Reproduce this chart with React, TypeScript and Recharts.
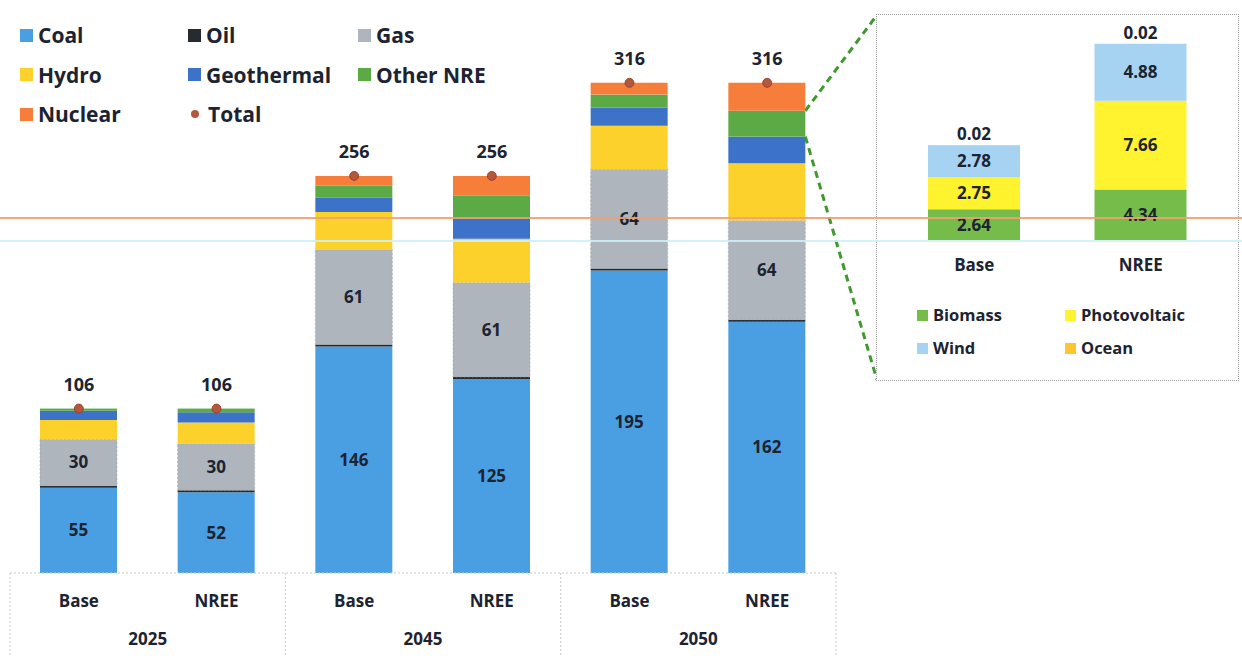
import React from 'react';
import { ComposedChart, BarChart, Bar, Line, XAxis, YAxis, LabelList } from 'recharts';

// ---------- Main chart data ----------
const scenarios = ['Base', 'NREE', 'Base', 'NREE', 'Base', 'NREE'];
const years = ['2025', '2025', '2045', '2045', '2050', '2050'];
const coal = [55, 52, 146, 125, 195, 162];
const oil = [1.3, 1.3, 1.3, 1.3, 1.3, 1.3];
const gas = [30, 30, 61, 61, 64, 64];
const hydro = [12.3, 13.8, 24.4, 28.2, 28, 36.8];
const geothermal = [6, 6.5, 9.2, 14, 11.8, 17.2];
const otherNRE = [1.4, 2.4, 7.8, 13.9, 8.3, 16.7];
const nuclear = [0, 0, 6.3, 12.6, 7.6, 18];
const totals = [106, 106, 256, 256, 316, 316];

// ---------- Inset data ----------
const insetScenarios = ['Base', 'NREE'];
const biomass = [2.64, 4.34];
const photovoltaic = [2.75, 7.66];
const wind = [2.78, 4.88];
const ocean = [0.02, 0.02];

const FONT = "'Open Sans', sans-serif";
const TEXT = '#1d2330';

const C = {
  coal: '#4A9FE3',
  oil: '#262B30',
  gas: '#AEB5BC',
  hydro: '#FDD12B',
  geo: '#3D72C9',
  other: '#5BAA45',
  nuclear: '#F67E3A',
  total: '#B4573C',
  biomass: '#76BC4B',
  pv: '#FFF22E',
  wind: '#A7D3F3',
  ocean: '#FFC52E',
};

const mainData = scenarios.map((s, i) => ({
  scenario: s,
  year: years[i],
  coal: coal[i],
  oil: oil[i],
  gas: gas[i],
  hydro: hydro[i],
  geothermal: geothermal[i],
  otherNRE: otherNRE[i],
  nuclear: nuclear[i],
  total: totals[i],
}));

const insetData = insetScenarios.map((s, i) => ({
  scenario: s,
  biomass: biomass[i],
  photovoltaic: photovoltaic[i],
  wind: wind[i],
  ocean: ocean[i],
}));

const mainLegend = [
  { name: 'Coal', color: C.coal },
  { name: 'Oil', color: C.oil },
  { name: 'Gas', color: C.gas },
  { name: 'Hydro', color: C.hydro },
  { name: 'Geothermal', color: C.geo },
  { name: 'Other NRE', color: C.other },
  { name: 'Nuclear', color: C.nuclear },
  { name: 'Total', color: C.total, dot: true },
];

const insetLegend = [
  { name: 'Biomass', color: C.biomass },
  { name: 'Photovoltaic', color: C.pv },
  { name: 'Wind', color: C.wind },
  { name: 'Ocean', color: C.ocean },
];

// Inset box layout
const INSET_LEFT = 876;
const INSET_TOP = 14;
const INSET_W = 363;
const INSET_H = 367;

const ScenarioTick = (props: any) => {
  const { x, y, payload, index, width, visibleTicksCount } = props;
  const count = visibleTicksCount || 6;
  const band = (width || 827) / count;
  const lineStyle = { stroke: '#c9c9c9', strokeWidth: 1, strokeDasharray: '2 2' };
  return (
    <g>
      {index % 2 === 0 && (
        <line x1={x - band / 2} x2={x - band / 2} y1={y} y2={y + 82} {...lineStyle} />
      )}
      {index === count - 1 && (
        <line x1={x + band / 2} x2={x + band / 2} y1={y} y2={y + 82} {...lineStyle} />
      )}
      <text
        x={x}
        y={y + 27}
        textAnchor="middle"
        dominantBaseline="central"
        fontFamily={FONT}
        fontSize={17}
        fontWeight={700}
        fill={TEXT}
      >
        {payload.value}
      </text>
    </g>
  );
};

const YearTick = (props: any) => {
  const { x, y, payload } = props;
  return (
    <text
      x={x}
      y={y + 20}
      textAnchor="middle"
      dominantBaseline="central"
      fontFamily={FONT}
      fontSize={17}
      fontWeight={700}
      fill={TEXT}
    >
      {payload.value}
    </text>
  );
};

const InsetTick = (props: any) => {
  const { x, y, payload } = props;
  return (
    <text
      x={x}
      y={y + 24}
      textAnchor="middle"
      dominantBaseline="central"
      fontFamily={FONT}
      fontSize={17}
      fontWeight={700}
      fill={TEXT}
    >
      {payload.value}
    </text>
  );
};

// Other NRE bar shape; the last bar also draws the zoom connector to the inset box
const OtherShape = (props: any) => {
  const { x, y, width, height, fill, index } = props;
  const isLast = index === mainData.length - 1;
  const dash = { stroke: '#3E9A2C', strokeWidth: 3, strokeDasharray: '7 5', fill: 'none' };
  return (
    <g>
      <rect x={x} y={y} width={width} height={height} fill={fill} />
      {isLast && (
        <>
          <path d={`M${x + width},${y} L${INSET_LEFT + 1},${INSET_TOP + 1}`} {...dash} />
          <path d={`M${x + width},${y + height} L${INSET_LEFT + 1},${INSET_TOP + INSET_H - 1}`} {...dash} />
        </>
      )}
    </g>
  );
};

const labelStyle = { fill: TEXT, fontSize: 17, fontWeight: 700, fontFamily: FONT };

export default function App() {
  return (
    <div
      style={{
        position: 'absolute',
        left: 0,
        top: 0,
        width: 1242,
        height: 664,
        background: '#ffffff',
        fontFamily: FONT,
        overflow: 'hidden',
      }}
    >
      <ComposedChart
        width={1242}
        height={664}
        data={mainData}
        margin={{ top: 0, right: 406, left: 10, bottom: 6 }}
        style={{ overflow: 'visible' }}
      >
        <XAxis
          xAxisId="scen"
          dataKey="scenario"
          height={45}
          tickSize={0}
          tickMargin={0}
          tickLine={false}
          axisLine={{ stroke: '#c9c9c9', strokeDasharray: '2 2' }}
          tick={<ScenarioTick />}
          interval={0}
        />
        <XAxis
          xAxisId="year"
          dataKey="year"
          allowDuplicatedCategory={false}
          height={40}
          tickSize={0}
          tickMargin={0}
          tickLine={false}
          axisLine={false}
          tick={<YearTick />}
          interval={0}
        />
        <YAxis hide domain={[0, 369.4]} />
        <Bar xAxisId="scen" dataKey="coal" stackId="a" fill={C.coal} barSize={77} isAnimationActive={false}>
          <LabelList dataKey="coal" position="center" style={labelStyle} />
        </Bar>
        <Bar xAxisId="scen" dataKey="oil" stackId="a" fill={C.oil} barSize={77} isAnimationActive={false} />
        <Bar
          xAxisId="scen"
          dataKey="gas"
          stackId="a"
          fill={C.gas}
          stroke="#9aa1a7"
          strokeWidth={0.6}
          strokeDasharray="2 2"
          barSize={77}
          isAnimationActive={false}
        >
          <LabelList dataKey="gas" position="center" style={labelStyle} />
        </Bar>
        <Bar xAxisId="scen" dataKey="hydro" stackId="a" fill={C.hydro} barSize={77} isAnimationActive={false} />
        <Bar xAxisId="scen" dataKey="geothermal" stackId="a" fill={C.geo} barSize={77} isAnimationActive={false} />
        <Bar
          xAxisId="scen"
          dataKey="otherNRE"
          stackId="a"
          fill={C.other}
          barSize={77}
          shape={<OtherShape />}
          isAnimationActive={false}
        />
        <Bar xAxisId="scen" dataKey="nuclear" stackId="a" fill={C.nuclear} barSize={77} isAnimationActive={false} />
        <Line
          xAxisId="scen"
          dataKey="total"
          stroke="none"
          dot={{ r: 4.5, fill: C.total, stroke: '#8B3A22', strokeWidth: 0.8 }}
          activeDot={false}
          legendType="none"
          isAnimationActive={false}
        >
          <LabelList dataKey="total" position="top" offset={18} style={{ ...labelStyle, fontSize: 18 }} />
        </Line>
      </ComposedChart>

      {/* Main legend */}
      {mainLegend.map((item, i) => {
        const col = i % 3;
        const row = Math.floor(i / 3);
        const left = 20 + [0, 168, 338][col];
        const top = 35 + row * 39.5 - 15;
        return (
          <div
            key={item.name}
            style={{
              position: 'absolute',
              left,
              top,
              height: 30,
              display: 'flex',
              alignItems: 'center',
              whiteSpace: 'nowrap',
            }}
          >
            {item.dot ? (
              <div
                style={{
                  flex: '0 0 auto',
                  width: 8,
                  height: 8,
                  borderRadius: '50%',
                  background: item.color,
                  marginLeft: 3,
                  marginRight: 9,
                }}
              />
            ) : (
              <div style={{ flex: '0 0 auto', width: 13, height: 13, background: item.color, marginRight: 5 }} />
            )}
            <span
              style={{
                fontSize: 21,
                fontWeight: 700,
                color: TEXT,
                fontFamily: FONT,
                lineHeight: '30px',
              }}
            >
              {item.name}
            </span>
          </div>
        );
      })}

      {/* Inset box */}
      <div
        style={{
          position: 'absolute',
          left: INSET_LEFT,
          top: INSET_TOP,
          width: INSET_W,
          height: INSET_H,
          boxSizing: 'border-box',
          border: '1.5px dotted #9b9b9b',
          background: '#ffffff',
        }}
      >
        <BarChart
          width={360}
          height={364}
          data={insetData}
          margin={{ top: 16, right: 13, left: 14, bottom: 99 }}
        >
          <XAxis
            dataKey="scenario"
            height={40}
            tickSize={0}
            tickMargin={0}
            tickLine={false}
            axisLine={false}
            tick={<InsetTick />}
            interval={0}
          />
          <YAxis hide domain={[0, 18]} />
          <Bar dataKey="biomass" stackId="b" fill={C.biomass} barSize={92} isAnimationActive={false}>
            <LabelList dataKey="biomass" position="center" style={labelStyle} />
          </Bar>
          <Bar dataKey="photovoltaic" stackId="b" fill={C.pv} barSize={92} isAnimationActive={false}>
            <LabelList dataKey="photovoltaic" position="center" style={labelStyle} />
          </Bar>
          <Bar dataKey="wind" stackId="b" fill={C.wind} barSize={92} isAnimationActive={false}>
            <LabelList dataKey="wind" position="center" style={labelStyle} />
          </Bar>
          <Bar dataKey="ocean" stackId="b" fill={C.ocean} barSize={92} isAnimationActive={false}>
            <LabelList dataKey="ocean" position="top" offset={5} style={labelStyle} />
          </Bar>
        </BarChart>

        {insetLegend.map((item, i) => {
          const col = i % 2;
          const row = Math.floor(i / 2);
          const left = [40, 188][col];
          const top = 300 + row * 33 - 12;
          return (
            <div
              key={item.name}
              style={{
                position: 'absolute',
                left,
                top,
                height: 24,
                display: 'flex',
                alignItems: 'center',
                whiteSpace: 'nowrap',
              }}
            >
              <div style={{ flex: '0 0 auto', width: 11, height: 11, background: item.color }} />
              <span
                style={{
                  marginLeft: 5,
                  fontSize: 16.5,
                  fontWeight: 700,
                  color: TEXT,
                  fontFamily: FONT,
                  lineHeight: '24px',
                }}
              >
                {item.name}
              </span>
            </div>
          );
        })}
      </div>

      {/* scan guide lines seen across the original figure */}
      <div style={{ position: 'absolute', left: 0, top: 217, width: 1242, height: 2, background: '#F4A06C', opacity: 0.9 }} />
      <div style={{ position: 'absolute', left: 0, top: 240, width: 1242, height: 2, background: '#CDEFF8', opacity: 0.9 }} />
    </div>
  );
}
